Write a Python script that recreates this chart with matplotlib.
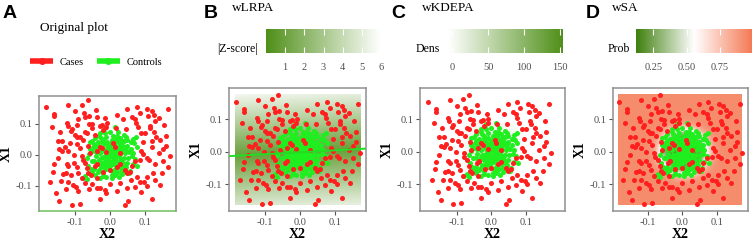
import numpy as np
import matplotlib
matplotlib.use("Agg")
import matplotlib.pyplot as plt
from matplotlib.colors import LinearSegmentedColormap, Normalize
from matplotlib.cm import ScalarMappable
from matplotlib.lines import Line2D

# ---- data (X2, X1) ----
case_points = np.array([
    (-0.184, 0.155), (-0.064, 0.176), (-0.119, 0.160), (-0.081, 0.162), (-0.160, 0.132),
    (-0.159, 0.124), (-0.041, 0.146), (0.076, 0.154), (0.050, 0.147), (0.107, 0.149),
    (0.119, 0.140), (0.126, 0.129), (0.167, 0.149), (-0.059, 0.126), (-0.070, 0.122),
    (-0.091, 0.117), (-0.038, 0.123), (-0.013, 0.118), (-0.124, 0.104), (-0.121, 0.094),
    (-0.094, 0.095), (-0.052, 0.099), (-0.029, 0.094), (-0.024, 0.097), (-0.010, 0.089),
    (-0.008, 0.102), (0.017, 0.087), (0.038, 0.116), (0.062, 0.122), (0.071, 0.117),
    (0.074, 0.104), (0.114, 0.094), (0.116, 0.086), (0.140, 0.120), (0.109, 0.124),
    (-0.143, 0.073), (-0.112, 0.077), (-0.109, 0.082), (-0.100, 0.065), (-0.093, 0.059),
    (-0.086, 0.057), (-0.070, 0.075), (-0.065, 0.070), (-0.052, 0.086), (-0.043, 0.065),
    (0.090, 0.072), (0.100, 0.070), (0.126, 0.074), (0.131, 0.059), (0.160, 0.061),
    (0.143, 0.048), (-0.136, 0.046), (-0.114, 0.038), (-0.145, 0.018), (-0.136, 0.014),
    (-0.119, 0.011), (-0.103, 0.000), (-0.086, 0.022), (-0.076, 0.048), (-0.062, 0.030),
    (-0.029, 0.027), (-0.023, 0.022), (-0.038, 0.011), (-0.057, 0.005), (-0.010, 0.010),
    (0.010, 0.038), (0.014, 0.027), (0.029, 0.005), (0.090, 0.011), (0.095, 0.002),
    (0.119, 0.027), (0.152, 0.019), (0.173, -0.002), (0.140, 0.005), (-0.124, -0.029),
    (-0.119, -0.035), (-0.103, -0.027), (-0.078, -0.016), (-0.065, -0.043), (-0.042, -0.035),
    (-0.036, -0.029), (-0.019, -0.054), (0.000, -0.048), (0.021, -0.038), (0.028, -0.030),
    (0.043, -0.048), (0.062, -0.035), (0.071, -0.019), (0.086, -0.016), (0.105, -0.011),
    (0.112, -0.018), (0.129, -0.029), (0.167, -0.038), (0.152, -0.019), (-0.164, -0.054),
    (-0.133, -0.061), (-0.126, -0.059), (-0.112, -0.065), (-0.090, -0.057), (-0.081, -0.075),
    (-0.062, -0.059), (-0.055, -0.066), (-0.038, -0.075), (-0.171, -0.086), (-0.119, -0.086),
    (-0.105, -0.097), (-0.097, -0.102), (-0.090, -0.115), (-0.059, -0.111), (-0.038, -0.108),
    (-0.029, -0.108), (-0.014, -0.113), (-0.010, -0.122), (0.021, -0.116), (0.048, -0.059),
    (0.057, -0.054), (0.076, -0.072), (0.086, -0.086), (0.097, -0.089), (0.105, -0.070),
    (0.122, -0.059), (0.143, -0.097), (0.105, -0.099), (0.048, -0.108), (0.071, -0.102),
    (-0.154, -0.124), (-0.145, -0.148), (-0.110, -0.161), (-0.086, -0.158), (-0.029, -0.141),
    (0.043, -0.161), (0.052, -0.148), (0.119, -0.143), (-0.100, 0.140), (-0.075, 0.135),
    (0.020, 0.130), (0.085, 0.135), (0.130, 0.110), (0.155, 0.095), (-0.165, 0.090),
    (-0.150, 0.045), (-0.130, 0.025), (-0.095, 0.035), (-0.080, -0.002), (-0.070, -0.025),
    (-0.095, -0.040), (-0.150, -0.010), (-0.160, -0.030), (-0.140, -0.085), (-0.125, -0.110),
    (-0.070, -0.090), (-0.050, -0.095), (0.000, -0.095), (0.030, -0.090), (0.060, -0.080),
    (0.090, -0.120), (0.130, -0.080), (0.150, -0.060), (0.160, 0.030), (0.120, 0.045),
    (0.095, 0.040), (0.080, 0.090), (0.045, 0.085), (-0.060, 0.100), (-0.020, 0.080),
])

control_points = np.array([
    (-0.014, 0.086), (0.014, 0.089), (0.024, 0.075), (0.046, 0.059), (0.067, 0.051),
    (0.074, 0.059), (0.076, 0.027), (0.062, -0.005), (0.071, -0.014), (0.078, -0.035),
    (0.057, -0.051), (0.017, -0.059), (0.024, -0.054), (-0.010, -0.070), (-0.029, -0.073),
    (-0.043, -0.065), (-0.065, -0.077), (-0.071, -0.068), (-0.078, -0.075), (-0.059, 0.003),
    (-0.048, 0.027), (-0.057, 0.043), (-0.043, 0.054), (-0.029, 0.070), (0.000, 0.075),
    (-0.052, -0.020), (-0.062, -0.035), (-0.045, -0.045), (-0.035, -0.055), (-0.020, -0.060),
    (0.005, -0.065), (0.035, -0.062), (0.045, -0.040), (0.050, -0.025), (0.055, 0.010),
    (0.050, 0.030), (0.040, 0.045), (0.030, 0.055), (0.010, 0.062), (-0.010, 0.058),
    (-0.020, 0.048), (-0.035, 0.040), (-0.050, 0.012), (-0.040, 0.020), (-0.030, 0.030),
    (-0.040, -0.005), (-0.030, -0.015), (-0.035, -0.030), (-0.025, -0.040), (-0.010, -0.045),
    (0.000, -0.050), (0.015, -0.045), (0.028, -0.038), (0.038, -0.025), (0.040, -0.010),
    (0.042, 0.005), (0.035, 0.020), (0.030, 0.035), (0.018, 0.045), (0.005, 0.048),
    (-0.008, 0.042), (-0.018, 0.035), (-0.025, 0.020), (-0.028, 0.005), (-0.020, -0.008),
    (-0.022, -0.025), (-0.012, -0.032), (0.000, -0.035), (0.012, -0.030), (0.022, -0.022),
    (0.028, -0.010), (0.030, 0.002), (0.025, 0.015), (0.018, 0.025), (0.008, 0.030),
    (-0.005, 0.028), (-0.012, 0.020), (-0.015, 0.008), (-0.010, -0.005), (-0.005, -0.018),
    (0.005, -0.020), (0.015, -0.012), (0.018, 0.000), (0.012, 0.012), (0.002, 0.015),
    (-0.003, 0.005), (0.005, 0.002), (0.008, -0.008), (0.010, 0.005), (0.020, 0.010),
    (-0.002, -0.008), (0.015, 0.020), (0.025, -0.002), (0.032, 0.010), (-0.018, 0.015),
    (-0.008, 0.010), (0.000, 0.022), (0.012, 0.035), (0.022, 0.040), (-0.015, -0.020),
    (0.008, -0.028), (0.020, -0.035), (0.035, -0.048), (-0.005, -0.040), (-0.025, -0.010),
    (0.045, 0.015), (0.060, 0.020), (0.065, -0.030), (0.055, -0.060), (-0.050, -0.055),
    (-0.058, 0.020), (-0.065, -0.010), (0.068, 0.038), (0.040, 0.065), (-0.030, 0.060),
    (-0.045, 0.035), (0.005, -0.075), (0.025, -0.070), (-0.015, 0.070), (0.020, 0.060),
    (0.050, 0.048), (-0.055, -0.045), (0.045, -0.055), (-0.040, 0.010), (0.038, 0.030),
    (0.003, 0.010), (0.007, -0.003), (-0.007, -0.012), (0.013, -0.020), (0.022, 0.003),
    (-0.012, 0.000), (0.000, 0.035), (0.016, 0.052), (-0.022, 0.042), (0.033, -0.018),
    (0.027, 0.026), (-0.017, -0.040), (0.010, -0.055), (-0.030, -0.048), (0.040, -0.035),
    (0.046, 0.025), (-0.040, 0.030), (-0.045, -0.020), (0.052, -0.010), (0.000, -0.025),
    (-0.008, -0.025), (0.018, -0.005), (0.006, 0.040), (-0.025, 0.055), (0.035, 0.045),
    (-0.050, 0.045), (0.060, 0.040), (0.015, -0.065), (-0.020, -0.068), (0.065, 0.005),
])

lrpa_intercept, lrpa_slope, lrpa_scale = -0.001, 0.059, 0.034
sa_center, sa_radius, sa_width = (0.005, 0.0), 0.068, 0.009
kde_bandwidth = 0.02

panel_letters = ["A", "B", "C", "D"]
panel_titles = ["Original plot", "wLRPA", "wKDEPA", "wSA"]
legend_labels = ["Cases", "Controls"]
axis_ticks = [-0.1, 0.0, 0.1]
z_ticks = [1, 2, 3, 4, 5, 6]
dens_ticks = [0, 50, 100, 150]
prob_ticks = [0.25, 0.50, 0.75]

W, H = 754, 240
SERIF = "Liberation Serif"
RED = "#ff1f1f"
GREEN = "#1fee1f"
GREY_TXT = "#4d4d4d"

fig = plt.figure(figsize=(W / 100, H / 100), dpi=100)


def px_axes(x0, y0, x1, y1):
    return fig.add_axes([x0 / W, 1 - y1 / H, (x1 - x0) / W, (y1 - y0) / H])


def style_panel(ax, xlim, ylim):
    ax.set_xlim(*xlim)
    ax.set_ylim(*ylim)
    ax.set_xticks(axis_ticks)
    ax.set_yticks(axis_ticks)
    ax.set_xticklabels(["-0.1", "0.0", "0.1"])
    ax.set_yticklabels(["-0.1", "0.0", "0.1"])
    ax.tick_params(length=3, width=0.8, color="#555555", labelsize=7.5,
                   labelcolor=GREY_TXT, pad=2)
    for lab in ax.get_xticklabels() + ax.get_yticklabels():
        lab.set_family(SERIF)
    for sp in ax.spines.values():
        sp.set_color("#8f8f8f")
        sp.set_linewidth(1.1)
    ax.set_xlabel("X2", family=SERIF, fontweight="bold", fontsize=10, labelpad=1)
    ax.set_ylabel("X1", family=SERIF, fontweight="bold", fontsize=10, labelpad=2)


def scatter(ax):
    ax.scatter(control_points[:, 0], control_points[:, 1], s=13, c=GREEN, lw=0, zorder=3)
    ax.scatter(case_points[:, 0], case_points[:, 1], s=13, c=RED, lw=0, zorder=4)


def colorbar(x0, x1, cmap, vmin, vmax, ticks, ticklabels, label, label_x):
    cax = px_axes(x0, 29, x1, 53)
    sm = ScalarMappable(norm=Normalize(vmin, vmax), cmap=cmap)
    cb = fig.colorbar(sm, cax=cax, orientation="horizontal")
    cb.outline.set_visible(False)
    cb.set_ticks(ticks)
    cb.set_ticklabels(ticklabels)
    cax.tick_params(axis="x", direction="in", length=4, width=0.8, color="white",
                    top=True, labelsize=7.5, labelcolor=GREY_TXT, pad=7)
    for lab in cax.get_xticklabels():
        lab.set_family(SERIF)
    fig.text(label_x / W, 1 - 49 / H, label, family=SERIF, fontsize=8.5,
             ha="right", va="center")


# raster extent = range of the points
ext = [-0.185, 0.173, -0.163, 0.176]
gx, gy = np.meshgrid(np.linspace(ext[0], ext[1], 200), np.linspace(ext[2], ext[3], 200))

green_white = LinearSegmentedColormap.from_list("gw", ["#4f8f18", "#ffffff"])
white_green = LinearSegmentedColormap.from_list("wg", ["#ffffff", "#4f8f18"])
green_salmon = LinearSegmentedColormap.from_list("gs", ["#3e7f0c", "#ffffff", "#f47a55"])

# ---- A: original ----
axA = px_axes(39, 96, 176, 211)
scatter(axA)
style_panel(axA, (-0.203, 0.189), (-0.181, 0.190))
axA.spines["bottom"].set_color("#6cbf5c")

handles = [Line2D([], [], color=c, lw=4, marker="o", ms=4, solid_capstyle="butt")
           for c in (RED, GREEN)]
fig.legend(handles, legend_labels, loc="center", bbox_to_anchor=(96 / W, 1 - 62 / H),
           ncol=2, frameon=False, prop={"family": SERIF, "size": 7.5},
           handlelength=2.2, handletextpad=0.6, columnspacing=1.3)

# ---- B: wLRPA ----
axB = px_axes(229, 88, 366, 211)
zscore = np.abs(gy - (lrpa_intercept + lrpa_slope * gx)) / lrpa_scale
axB.imshow(zscore, extent=ext, origin="lower", cmap=green_white, vmin=0, vmax=6,
           alpha=0.85, aspect="auto", interpolation="bilinear", zorder=1)
xl = np.array([-0.25, 0.25])
axB.plot(xl, lrpa_intercept + lrpa_slope * xl, color="#22dd22", lw=1.4, zorder=5)
scatter(axB)
style_panel(axB, (-0.203, 0.189), (-0.182, 0.197))
colorbar(266, 381, green_white, 0, 6, z_ticks, [str(t) for t in z_ticks], "|Z-score|", 258)

# ---- C: wKDEPA ----
axC = px_axes(420, 88, 565, 211)
kx0, kx1 = control_points[:, 0].min(), control_points[:, 0].max()
ky0, ky1 = control_points[:, 1].min(), control_points[:, 1].max()
kx, ky = np.meshgrid(np.linspace(kx0, kx1, 120), np.linspace(ky0, ky1, 120))
dens = np.zeros_like(kx)
for px, py in control_points:
    dens += np.exp(-((kx - px) ** 2 + (ky - py) ** 2) / (2 * kde_bandwidth ** 2))
dens /= len(control_points) * 2 * np.pi * kde_bandwidth ** 2
axC.imshow(dens, extent=[kx0, kx1, ky0, ky1], origin="lower", cmap=white_green,
           vmin=-6, vmax=154, alpha=0.45, aspect="auto", interpolation="bilinear", zorder=1)
scatter(axC)
style_panel(axC, (-0.206, 0.214), (-0.182, 0.197))
colorbar(448, 563, white_green, -6, 154, dens_ticks, [str(t) for t in dens_ticks], "Dens", 440)

# ---- D: wSA ----
axD = px_axes(613, 88, 748, 211)
r = np.hypot(gx - sa_center[0], gy - sa_center[1])
prob = 0.12 + 0.86 / (1 + np.exp(-(r - sa_radius) / sa_width))
axD.imshow(prob, extent=ext, origin="lower", cmap=green_salmon, vmin=0.12, vmax=0.99,
           alpha=0.88, aspect="auto", interpolation="bilinear", zorder=1)
scatter(axD)
style_panel(axD, (-0.200, 0.191), (-0.182, 0.197))
colorbar(636, 752, green_salmon, 0.12, 0.99, prob_ticks, ["0.25", "0.50", "0.75"], "Prob", 630)

# ---- titles and panel letters ----
title_pos = [(40, 28), (232, 8), (422, 8), (612, 8)]
letter_pos = [(3, 14), (204, 14), (391, 14), (586, 14)]
for t, (x, y) in zip(panel_titles, title_pos):
    fig.text(x / W, 1 - y / H, t, family=SERIF, fontsize=9.5, va="center", ha="left")
for t, (x, y) in zip(panel_letters, letter_pos):
    fig.text(x / W, 1 - y / H, t, family="Liberation Sans", fontweight="bold",
             fontsize=14, va="center", ha="left")

fig.savefig("out.png", dpi=100)
